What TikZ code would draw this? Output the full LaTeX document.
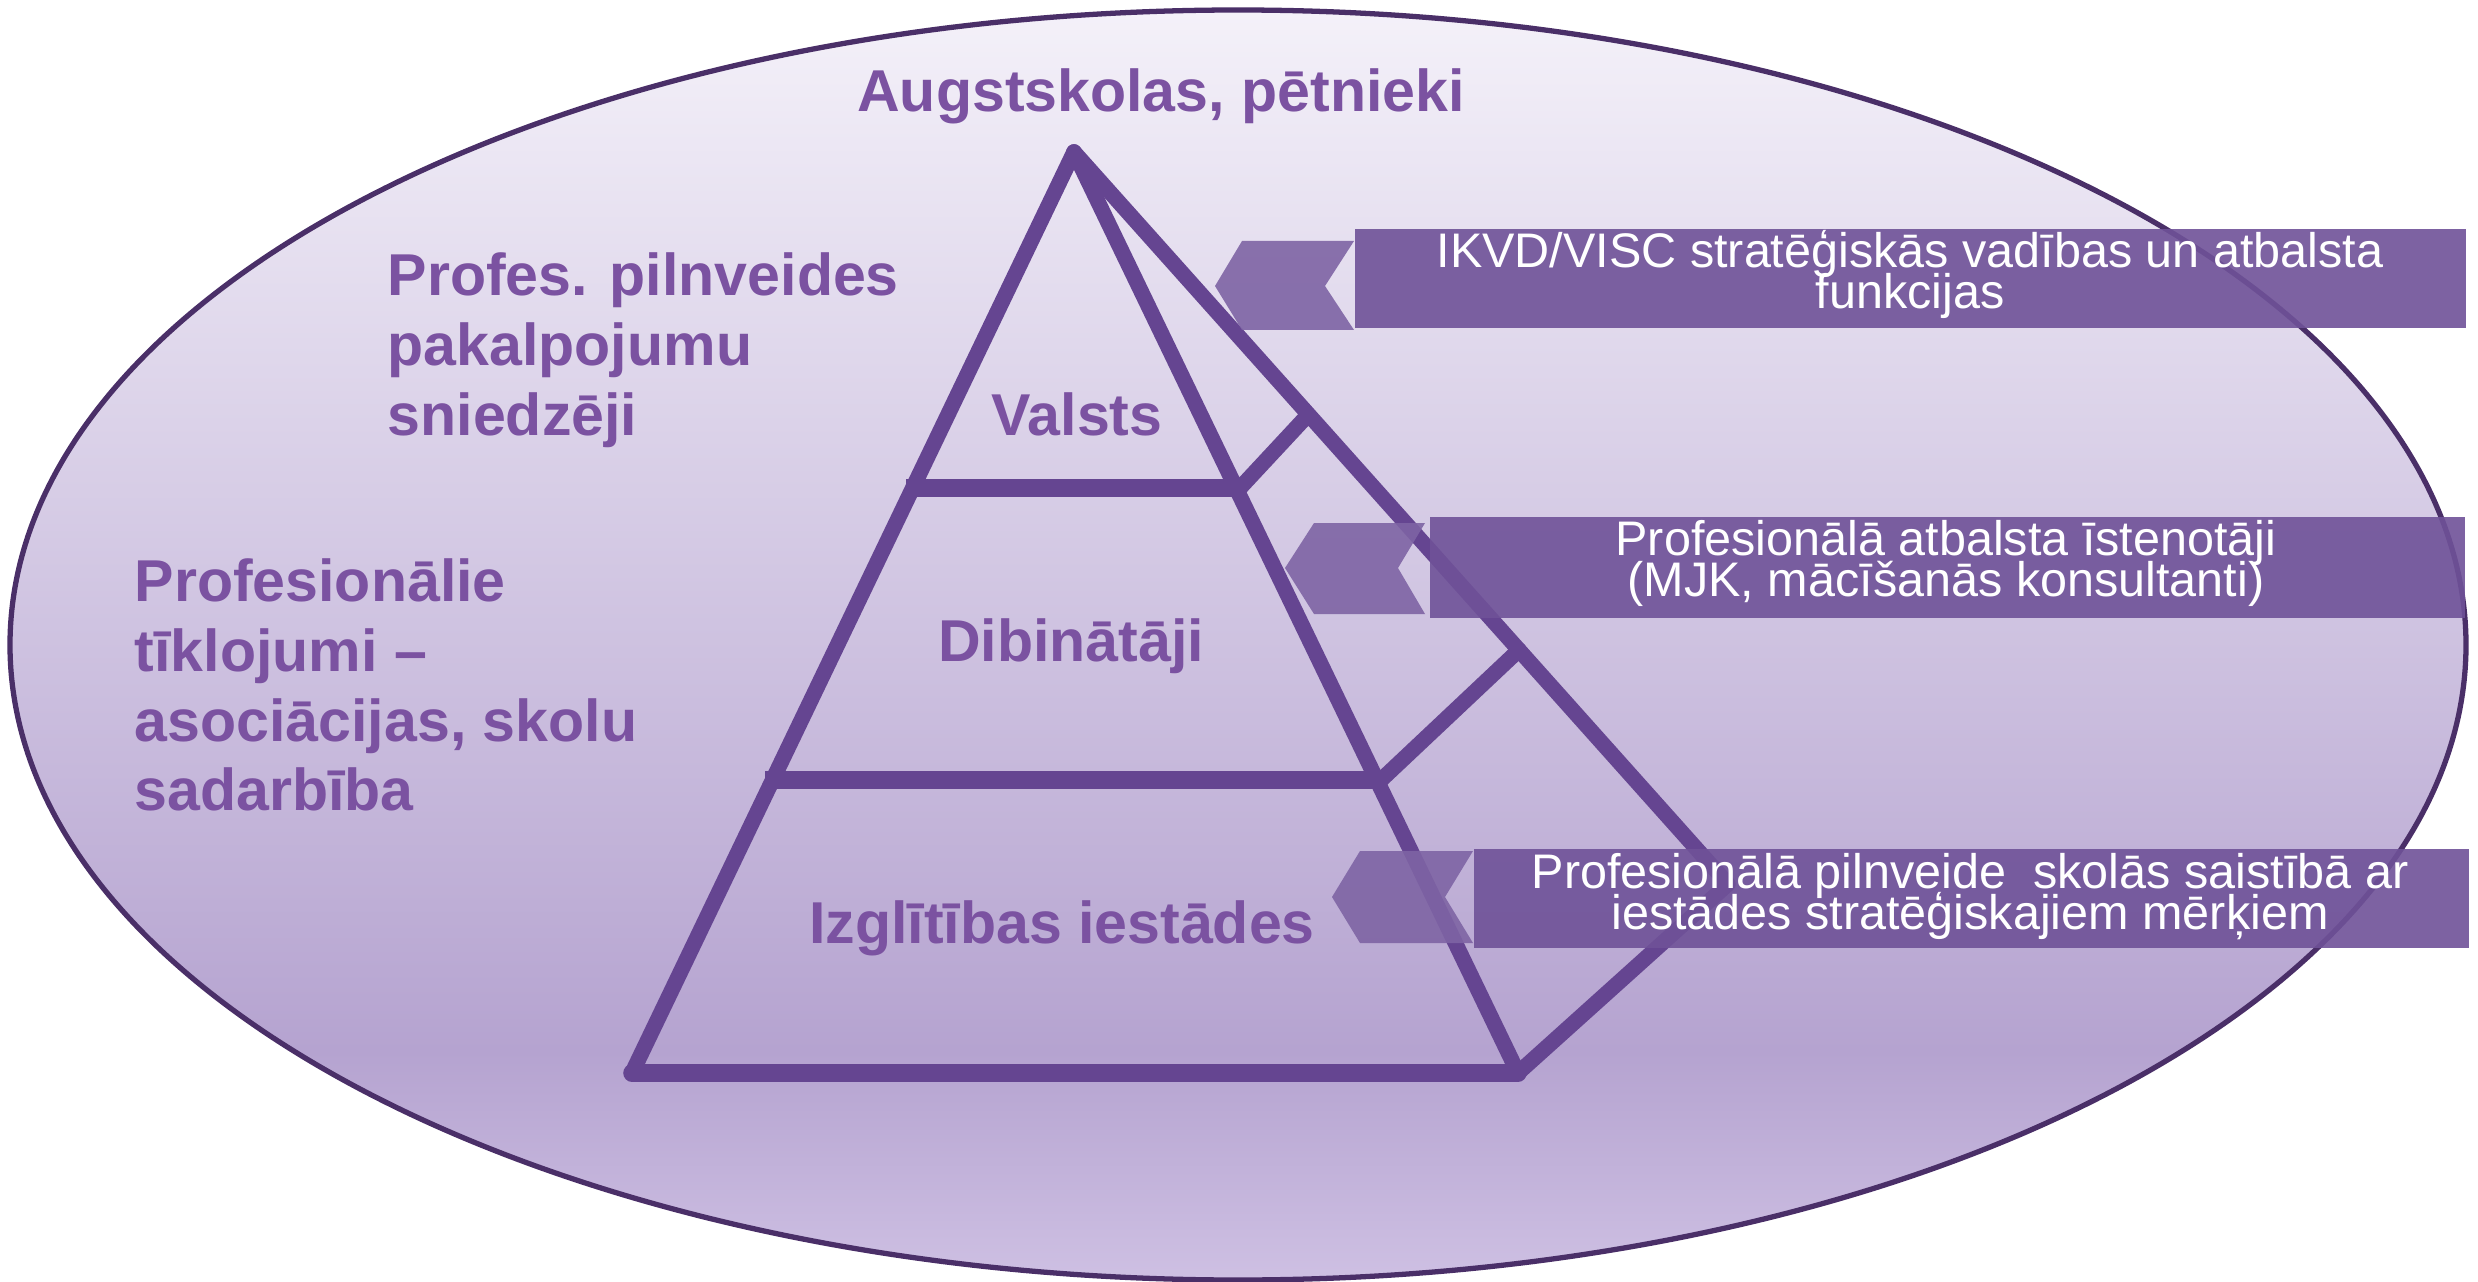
\documentclass[tikz,border=0pt]{standalone}
\usepackage{fontspec}
\setmainfont{Liberation Sans}
\definecolor{etop}{HTML}{F4F1F9}
\definecolor{edark}{HTML}{B5A3D0}
\definecolor{ebot}{HTML}{CEC0E3}
\definecolor{rim}{HTML}{4A2F68}
\definecolor{pline}{HTML}{654591}
\definecolor{lbl}{HTML}{7B52A1}
\definecolor{boxc}{HTML}{6F5298}
\definecolor{chevc}{HTML}{7E64A4}
\pgfdeclareverticalshading{ellshade}{100bp}{color(0bp)=(ebot); color(25bp)=(ebot); color(34bp)=(edark); color(75bp)=(etop); color(100bp)=(etop)}
\begin{document}
\begin{tikzpicture}[x=0.01cm, y=-0.01cm,
  edge/.style={draw=pline, line width=4.4pt, line cap=round, line join=round},
  shelf/.style={draw=pline, line width=5pt},
  lab/.style={text=lbl, font={\fontsize{16.8pt}{19.8pt}\selectfont\bfseries}, inner sep=0pt},
  bar/.style={fill=boxc, fill opacity=0.9, draw=none, inner sep=0pt, anchor=north west},
  chev/.style={fill=chevc, fill opacity=0.9},
  boxtxt/.style={text=white, font={\fontsize{13.8pt}{11.8pt}\selectfont\lineskiplimit=-30pt}, align=center, inner sep=0pt, anchor=north}
]
\fill[white] (0,0) rectangle (2478,1282);
\useasboundingbox (0,0) rectangle (2478,1282);

% ellipse
\path[shading=ellshade, draw=rim, line width=1.5pt] (1238,645) ellipse [x radius=1228, y radius=635];

% pyramid coordinates
\coordinate (A) at (1074,152);
\coordinate (BL) at (632,1073);
\coordinate (BR) at (1518,1073);
\coordinate (BK) at (1728,884);
\coordinate (D1L) at (906,488);
\coordinate (D1R) at (1240,488);
\coordinate (D1B) at (1307,416);
\coordinate (D2L) at (765,780);
\coordinate (D2R) at (1381,780);
\coordinate (D2B) at (1519,650);

\draw[edge] (A) -- (BL);
\draw[edge] (A) -- (BR);
\draw[edge] (A) -- (BK) -- (BR);
\draw[shelf, line cap=round] (BL) -- (BR);
\draw[shelf] (D1L) -- (D1R);
\draw[shelf] (D2L) -- (D2R);
\draw[edge] (D1R) -- (D1B);
\draw[edge] (D2R) -- (D2B);

% chevrons
\fill[chev] (1242,241) -- (1354,241) -- (1325,286) -- (1354,330) -- (1242,330) -- (1215,286) -- cycle;
\fill[chev] (1314,523) -- (1425,523) -- (1398,568) -- (1425,614) -- (1314,614) -- (1285,568) -- cycle;
\fill[chev] (1360,851) -- (1473,851) -- (1445,897) -- (1473,943) -- (1360,943) -- (1332,897) -- cycle;

% bars
\node[bar, minimum width=11.11cm, minimum height=0.99cm] (b1) at (1354,228) {};
\node[bar, minimum width=10.35cm, minimum height=1.01cm] (b2) at (1429,516) {};
\node[bar, minimum width=9.95cm, minimum height=0.99cm] (b3) at (1473,848) {};

\node[boxtxt] (t1) at (1910,218) {\rule{0pt}{1em}IKVD/VISC stratēģiskās vadības un atbalsta\\funkcijas};
\node[boxtxt] (t2) at (1946,506) {\rule{0pt}{1em}Profesionālā atbalsta īstenotāji\\(MJK, mācīšanās konsultanti)};
\node[boxtxt] (t3) at (1970,839) {\rule{0pt}{1em}Profesionālā pilnveide~ skolās saistībā ar\\iestādes stratēģiskajiem mērķiem};

% labels
\node[lab, anchor=base] (top) at (1161,112) {Augstskolas, pētnieki};
\node[lab, anchor=north west, align=left] (prov) at (387,236) {\rule{0pt}{1em}Profes. pilnveides\\pakalpojumu\\sniedzēji};
\node[lab, anchor=north west, align=left] (net) at (134,542) {\rule{0pt}{1em}Profesionālie\\tīklojumi –\\asociācijas, skolu\\sadarbība};
\node[lab, anchor=base] (valsts) at (1077,435) {Valsts};
\node[lab, anchor=base] (dib) at (1071,661) {Dibinātāji};
\node[lab, anchor=base] (izgl) at (1062,943) {Izglītības iestādes};
\end{tikzpicture}
\end{document}
